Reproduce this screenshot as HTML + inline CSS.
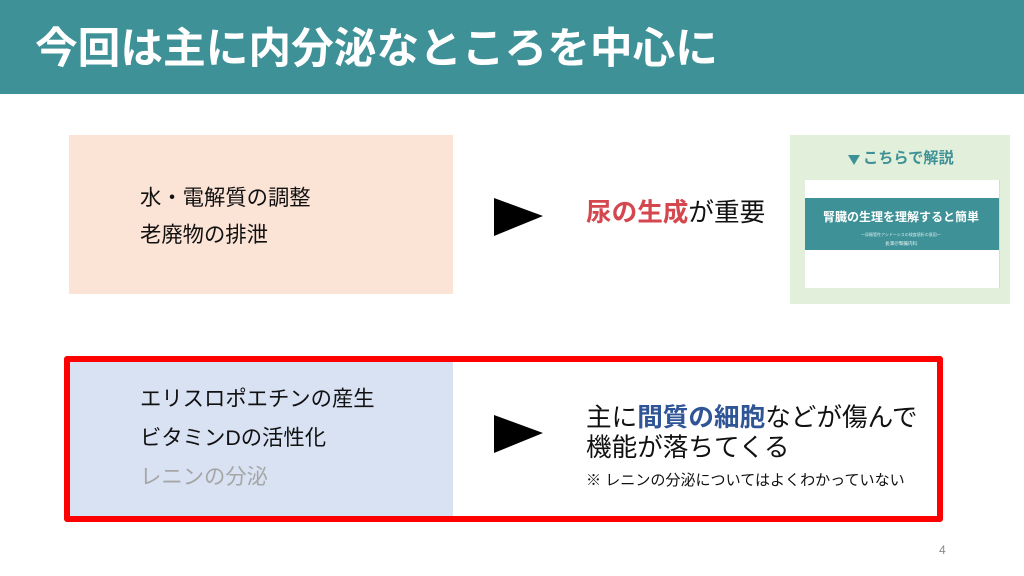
<!DOCTYPE html>
<html lang="ja">
<head>
<meta charset="utf-8">
<style>
html,body{margin:0;padding:0;background:#fff}
#s{position:relative;width:1024px;height:576px;overflow:hidden;background:#fff;font-family:"Liberation Sans","Noto Sans CJK JP",sans-serif;color:#111}
#s div{position:absolute;white-space:nowrap}
.t{line-height:1;font-size:21.33px}
.m{line-height:1;font-size:25.6px}
</style>
</head>
<body>
<div id="s">
<div style="left:0;top:0;width:1024px;height:94px;background:#3d9197"></div>
<div style="left:35px;top:28px;font-size:42.7px;line-height:1;font-weight:700;color:#fff">今回は主に内分泌なところを中心に</div>

<div style="left:69px;top:135px;width:384px;height:159px;background:#fbe3d6"></div>
<div class="t" style="left:140px;top:188px">水・電解質の調整</div>
<div class="t" style="left:140px;top:225px">老廃物の排泄</div>
<svg style="position:absolute;left:494px;top:197px" width="50" height="40"><polygon points="0,1 49,19 0,39" fill="#000"/></svg>
<div class="m" style="left:586px;top:201px"><b style="color:#d4474f">尿の生成</b>が重要</div>

<div style="left:790px;top:135px;width:220px;height:169px;background:#e2efda"></div>
<svg style="position:absolute;left:848px;top:154px" width="13" height="12"><polygon points="0,1 12,1 6,11" fill="#3d9197"/></svg>
<div style="left:863px;top:151px;font-size:15.2px;line-height:1;font-weight:700;color:#3d9197">こちらで解説</div>
<div style="left:805px;top:180px;width:194px;height:108px;background:#fff;box-shadow:1px 0 0 #d9d9d9"></div>
<div style="left:805px;top:198px;width:194px;height:52px;background:#3d9197"></div>
<div style="left:823px;top:211px;font-size:12px;line-height:1;font-weight:700;color:#fff">腎臓の生理を理解すると簡単</div>
<div style="left:861px;top:233px;font-size:4px;line-height:1;color:#d5e8e9">〜尿糖管性アシドーシスの検査値析の意図〜</div>
<div style="left:885px;top:242px;font-size:4.6px;line-height:1;color:#e6f2f2">長澤＠腎臓内科</div>

<div style="left:453px;top:362px;width:486px;height:155px;background:#fff"></div>
<div style="left:69px;top:362px;width:384px;height:155px;background:#d9e2f3"></div>
<div style="left:64px;top:356px;width:879px;height:166px;box-sizing:border-box;border:6px solid #ff0000;border-radius:3px"></div>

<div class="t" style="left:140px;top:389px">エリスロポエチンの産生</div>
<div class="t" style="left:140px;top:428px">ビタミンDの活性化</div>
<div class="t" style="left:140px;top:467px;color:#a6a6a6">レニンの分泌</div>
<svg style="position:absolute;left:494px;top:414px" width="50" height="40"><polygon points="0,1 49,19 0,39" fill="#000"/></svg>
<div class="m" style="left:586px;top:406px">主に<b style="color:#2f5597">間質の細胞</b>などが傷んで</div>
<div class="m" style="left:586px;top:436px">機能が落ちてくる</div>
<div style="left:586px;top:473px;font-size:15.05px;line-height:1">※ レニンの分泌についてはよくわかっていない</div>
<div style="left:939px;top:544px;font-size:12px;line-height:1;color:#8a8a8a">4</div>
</div>
</body>
</html>
